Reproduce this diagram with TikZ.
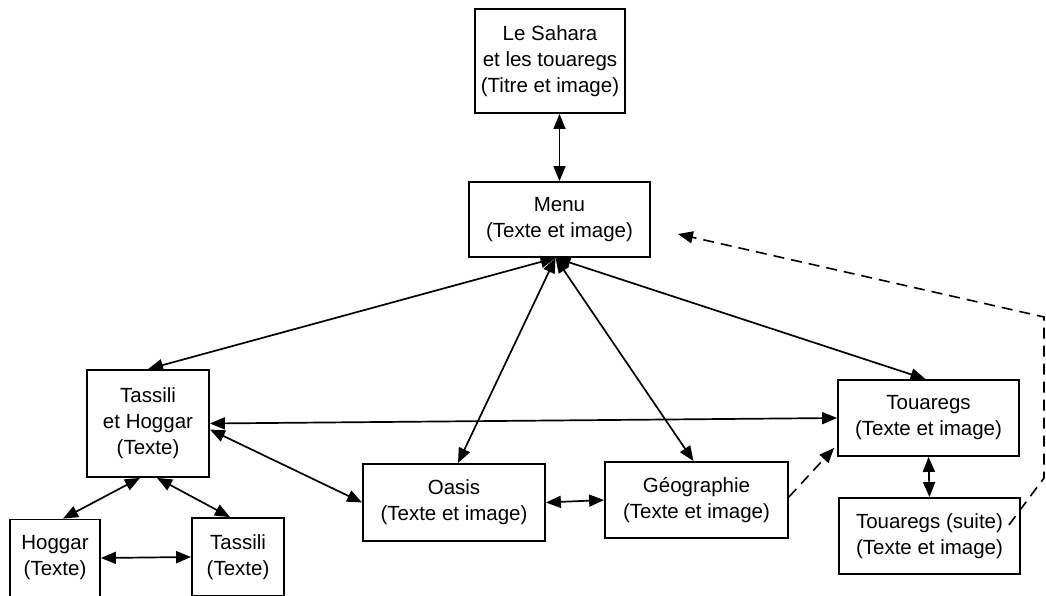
\documentclass[tikz,border=0pt]{standalone}
\usepackage{fontspec}
\setmainfont{Liberation Sans}
\usetikzlibrary{arrows.meta}
\begin{document}
\begin{tikzpicture}[x=1pt,y=-1pt,
  box/.style={draw,line width=1.8pt,align=center,inner sep=0pt,font=\fontsize{20.5}{26}\selectfont},
  link/.style={line width=1.7pt,{Triangle[length=15pt,width=12pt]}-{Triangle[length=15pt,width=12pt]}},
  dashlink/.style={line width=1.6pt,dash pattern=on 11pt off 7pt,-{Triangle[length=15pt,width=12pt]}}]
\useasboundingbox (0,0) rectangle (1046,596);
\node[box,minimum width=150pt,minimum height=104pt] (title) at (550,61) {Le Sahara\\et les touaregs\\(Titre et image)};
\node[box,minimum width=181pt,minimum height=75pt] (menu) at (559.5,219.5) {Menu\\(Texte et image)};
\node[box,minimum width=122pt,minimum height=107pt] (th) at (148,423.5) {Tassili\\et Hoggar\\(Texte)};
\node[box,minimum width=182pt,minimum height=77pt] (oasis) at (454,502.5) {Oasis\\(Texte et image)};
\node[box,minimum width=183pt,minimum height=76pt] (geo) at (696.5,500) {Géographie\\(Texte et image)};
\node[box,minimum width=181pt,minimum height=76pt] (tou) at (928.5,418) {Touaregs\\(Texte et image)};
\node[box,minimum width=181pt,minimum height=76pt] (suite) at (929.5,536) {Touaregs (suite)\\(Texte et image)};
\node[box,minimum width=90pt,minimum height=77pt] (hog) at (55,558) {Hoggar\\(Texte)};
\node[box,minimum width=92pt,minimum height=78pt] (tas) at (238,557) {Tassili\\(Texte)};
\coordinate (mb) at ([xshift=-4pt]menu.south);
\coordinate (d1) at (1044,478);
\coordinate (d2) at (1044,317);
\draw[link] (menu.north |- title.south) -- (menu.north);
\draw[link] (mb) -- (th.north);
\draw[link] (mb) -- ([xshift=4pt]oasis.north);
\draw[link] (mb) -- ([xshift=-3pt]geo.north);
\draw[link] (mb) -- ([xshift=-3pt]tou.north);
\draw[link] (th.east) -- (tou.west);
\draw[link] ([yshift=-6pt]th.east) -- (oasis.west);
\draw[link] ([xshift=-8pt]th.south) -- ([xshift=8pt]hog.north);
\draw[link] ([xshift=9pt]th.south) -- ([xshift=-8pt]tas.north);
\draw[link] (hog.east) -- (tas.west);
\draw[link] (oasis.east) -- (geo.west);
\draw[link] (tou.south) -- (suite.north);
\draw[dashlink] ([yshift=3pt]geo.east) -- ([xshift=-3pt,yshift=9pt]tou.south west);
\draw[dashlink] ([xshift=-12pt,yshift=11pt]suite.east) -- (d1) -- (d2) -- ([xshift=27pt,yshift=-14.5pt]menu.east);
\end{tikzpicture}
\end{document}
